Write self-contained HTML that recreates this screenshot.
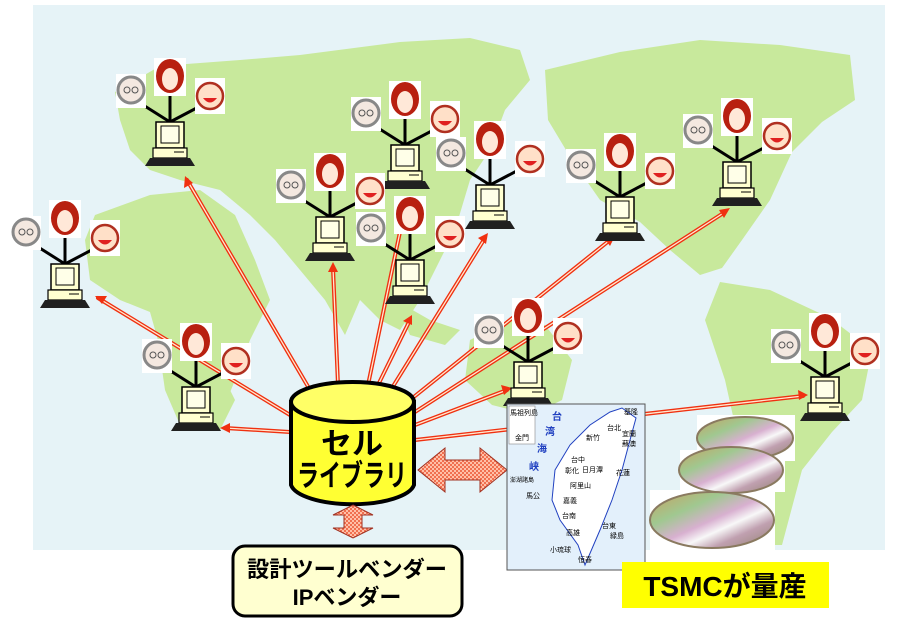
<!DOCTYPE html>
<html><head><meta charset="utf-8"><style>
html,body{margin:0;padding:0;background:#fff;}
svg{display:block;}
text{font-family:"Liberation Sans","Noto Sans CJK JP",sans-serif;}
</style></head><body>
<svg width="900" height="626" viewBox="0 0 900 626" xmlns="http://www.w3.org/2000/svg">
<defs>
<pattern id="chk" width="4" height="4" patternUnits="userSpaceOnUse">
<rect width="4" height="4" fill="#f07050"/><rect width="2" height="2" fill="#ffc0a8"/><rect x="2" y="2" width="2" height="2" fill="#ffc0a8"/></pattern>
<linearGradient id="waf" x1="0" y1="0" x2="1" y2="1">
<stop offset="0" stop-color="#c8a060"/><stop offset="0.3" stop-color="#a0c890"/><stop offset="0.5" stop-color="#d8b0d0"/><stop offset="0.62" stop-color="#f8f8f8"/><stop offset="0.75" stop-color="#c0a0b0"/><stop offset="1" stop-color="#908070"/></linearGradient>
<g id="node">
<line x1="0" y1="-18" x2="-38" y2="-42" stroke="#000" stroke-width="3"/>
<line x1="0" y1="-18" x2="0" y2="-50" stroke="#000" stroke-width="3"/>
<line x1="0" y1="-18" x2="38" y2="-38" stroke="#000" stroke-width="3"/>
<rect x="-54" y="-66" width="30" height="34" fill="#fff"/>
<circle cx="-39" cy="-50" r="13" fill="#f4e8e0" stroke="#888" stroke-width="3"/>
<circle cx="-43" cy="-50" r="3" fill="none" stroke="#555"/><circle cx="-35" cy="-50" r="3" fill="none" stroke="#555"/>
<rect x="-16" y="-82" width="32" height="38" fill="#fff"/>
<ellipse cx="0" cy="-64" rx="14" ry="17" fill="#b82010"/>
<ellipse cx="0" cy="-61" rx="8" ry="11" fill="#ffe8d8"/>
<rect x="25" y="-62" width="30" height="36" fill="#fff"/>
<circle cx="40" cy="-44" r="13" fill="#ffe0c8" stroke="#b03020" stroke-width="2.5"/>
<path d="M33,-42 Q40,-33 47,-42 z" fill="#e02020"/>
<rect x="-14" y="-18" width="28" height="26" fill="#ffffd0" stroke="#000" stroke-width="1.5"/>
<rect x="-9" y="-14" width="18" height="17" fill="#ffffe8" stroke="#000" stroke-width="1"/>
<rect x="-17" y="8" width="34" height="10" fill="#ffffd0" stroke="#000" stroke-width="1.2"/>
<line x1="4" y1="12" x2="14" y2="12" stroke="#000"/>
<path d="M-20,18 L20,18 L25,26 L-25,26 z" fill="#202020"/>
</g>
</defs>
<rect x="33" y="5" width="852" height="545" fill="#e6f3f7"/>
<g fill="#c8e99c">
<path d="M95,215 L150,195 L200,190 L235,215 L255,260 L270,300 L250,340 L235,380 L215,430 L185,428 L165,365 L150,312 L120,300 L90,280 L85,240 z"/>
<path d="M115,92 L160,66 L240,60 L300,55 L400,42 L470,38 L520,50 L530,80 L505,110 L490,150 L470,180 L455,230 L440,260 L420,300 L400,330 L380,320 L360,300 L345,335 L325,300 L300,270 L275,240 L250,215 L220,190 L180,180 L150,170 L130,150 L120,120 z"/>
<path d="M395,300 L430,320 L460,330 L445,345 L410,335 z"/>
<path d="M545,70 L620,52 L700,40 L780,45 L850,55 L855,100 L822,122 L792,152 L770,200 L742,240 L722,268 L700,275 L670,250 L640,222 L600,200 L572,160 L548,120 z"/>
<path d="M720,282 L770,290 L830,318 L872,350 L862,400 L832,432 L802,470 L782,545 L760,545 L745,470 L725,380 L705,320 z"/>
<path d="M470,340 L510,320 L545,325 L572,360 L562,400 L532,415 L492,405 L465,380 z"/>
<path d="M160,355 L215,360 L235,400 L220,430 L180,425 L165,390 z"/>
</g>
<g stroke-linecap="round">
<g stroke="#f03010" stroke-width="4" fill="none">
<line x1="310" y1="390" x2="187" y2="180" />
<line x1="290" y1="415" x2="98" y2="298"/>
<line x1="290" y1="432" x2="225" y2="428"/>
<line x1="338" y1="385" x2="333" y2="268"/>
<line x1="368" y1="385" x2="405" y2="208"/>
<line x1="378" y1="385" x2="410" y2="320"/>
<line x1="392" y1="388" x2="485" y2="238"/>
<line x1="410" y1="400" x2="610" y2="240"/>
<line x1="415" y1="412" x2="725" y2="212"/>
<line x1="415" y1="425" x2="507" y2="390"/>
<line x1="415" y1="440" x2="803" y2="396"/>
</g>
<g stroke="#ffe8d0" stroke-width="1.3" fill="none">
<line x1="310" y1="390" x2="187" y2="180"/>
<line x1="290" y1="415" x2="98" y2="298"/>
<line x1="290" y1="432" x2="225" y2="428"/>
<line x1="338" y1="385" x2="333" y2="268"/>
<line x1="368" y1="385" x2="405" y2="208"/>
<line x1="378" y1="385" x2="410" y2="320"/>
<line x1="392" y1="388" x2="485" y2="238"/>
<line x1="410" y1="400" x2="610" y2="240"/>
<line x1="415" y1="412" x2="725" y2="212"/>
<line x1="415" y1="425" x2="507" y2="390"/>
<line x1="415" y1="440" x2="803" y2="396"/>
</g>
<g fill="#f03010">
<path d="M185,176 l-1,12 l9,-5 z"/>
<path d="M95,296 l12,0 l-5,8 z"/>
<path d="M220,428 l10,-5 l0,10 z"/>
<path d="M333,262 l-5,10 l10,0 z"/>
<path d="M406,202 l-6,10 l10,1 z"/>
<path d="M412,315 l-9,6 l9,4 z"/>
<path d="M488,233 l-10,5 l8,6 z"/>
<path d="M615,236 l-11,2 l6,8 z"/>
<path d="M730,208 l-11,2 l5,8 z"/>
<path d="M512,388 l-11,-3 l3,10 z"/>
<path d="M808,395 l-10,-5 l1,10 z"/>
</g>
</g>
<use href="#node" x="170" y="140"/>
<use href="#node" x="405" y="163"/>
<use href="#node" x="490" y="203"/>
<use href="#node" x="330" y="235"/>
<use href="#node" x="410" y="278"/>
<use href="#node" x="620" y="215"/>
<use href="#node" x="737" y="180"/>
<use href="#node" x="65" y="282"/>
<use href="#node" x="196" y="405"/>
<use href="#node" x="528" y="380"/>
<use href="#node" x="825" y="395"/>
<!-- cylinder -->
<path d="M291,402 L291,485 A62,22 0 0 0 414,485 L414,402 z" fill="#ffff33" stroke="#000" stroke-width="4"/>
<ellipse cx="352.5" cy="402" rx="61.5" ry="20" fill="#ffff66" stroke="#000" stroke-width="4"/>
<text x="352" y="454" font-size="30" font-weight="bold" text-anchor="middle" textLength="62" lengthAdjust="spacingAndGlyphs">セル</text>
<text x="352" y="486" font-size="30" font-weight="bold" text-anchor="middle" textLength="110" lengthAdjust="spacingAndGlyphs">ライブラリ</text>
<!-- double arrows -->
<path d="M418,470 L445,448 L445,460 L480,460 L480,448 L507,470 L480,492 L480,480 L445,480 L445,492 z" fill="url(#chk)" stroke="#a03020" stroke-width="1"/>
<path d="M353,505 L373,515 L362,515 L362,528 L373,528 L353,538 L333,528 L344,528 L344,515 L333,515 z" fill="url(#chk)" stroke="#a03020" stroke-width="1"/>
<rect x="233" y="546" width="229" height="70" rx="12" fill="#ffffd0" stroke="#000" stroke-width="3"/>
<text x="347" y="577" font-size="22" font-weight="bold" text-anchor="middle" textLength="200" lengthAdjust="spacingAndGlyphs">設計ツールベンダー</text>
<text x="347" y="605" font-size="22" font-weight="bold" text-anchor="middle">IPベンダー</text>
<!-- taiwan map -->
<rect x="507" y="404" width="138" height="166" fill="#e3f0fb" stroke="#555" stroke-width="1"/>
<path d="M610,412 L622,408 L636,418 L630,440 L622,470 L612,500 L600,530 L585,565 L578,545 L560,520 L552,500 L555,470 L570,445 L590,425 z" fill="#fff" stroke="#2040c0" stroke-width="1"/>
<rect x="509" y="406" width="26" height="38" fill="#fff" stroke="#888" stroke-width="0.6"/>
<g font-size="7" fill="#000">
<text x="510" y="415">馬祖列島</text><text x="515" y="440">金門</text>
<text x="624" y="414">基隆</text><text x="607" y="430">台北</text><text x="622" y="436">宜蘭</text>
<text x="622" y="446">蘇澳</text><text x="586" y="440">新竹</text><text x="571" y="462">台中</text>
<text x="565" y="473">彰化</text><text x="582" y="472">日月潭</text><text x="616" y="475">花蓮</text>
<text x="570" y="488">阿里山</text><text x="563" y="503">嘉義</text><text x="562" y="518">台南</text>
<text x="566" y="535">高雄</text><text x="602" y="528">台東</text><text x="610" y="538">緑島</text>
<text x="550" y="552">小琉球</text><text x="578" y="562">恒春</text><text x="526" y="498">馬公</text>
<text x="510" y="482" font-size="6">澎湖諸島</text>
</g>
<g font-size="10" fill="#2040c0" font-weight="bold">
<text x="552" y="420">台</text><text x="545" y="435">湾</text><text x="537" y="452">海</text><text x="529" y="470">峡</text>
</g>
<!-- wafers -->
<rect x="697" y="415" width="98" height="46" fill="#fff"/>
<rect x="680" y="450" width="105" height="42" fill="#fff"/>
<rect x="650" y="490" width="125" height="60" fill="#fff"/>
<ellipse cx="745" cy="438" rx="48" ry="21" fill="url(#waf)" stroke="#8a7a60" stroke-width="2"/>
<ellipse cx="731" cy="470" rx="52" ry="23" fill="url(#waf)" stroke="#8a7a60" stroke-width="2"/>
<ellipse cx="712" cy="520" rx="62" ry="28" fill="url(#waf)" stroke="#8a7a60" stroke-width="2"/>
<rect x="622" y="562" width="207" height="46" fill="#ffff00"/>
<text x="725" y="596" font-size="28" font-weight="bold" text-anchor="middle">TSMCが量産</text>
</svg>
</body></html>
